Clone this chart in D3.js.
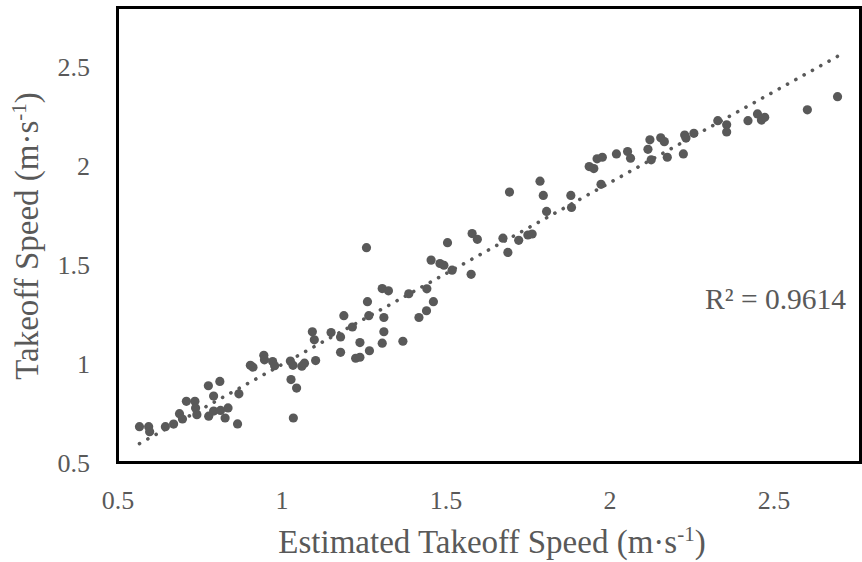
<!DOCTYPE html>
<html>
<head>
<meta charset="utf-8">
<script src="https://cdn.jsdelivr.net/npm/d3@7/dist/d3.min.js"></script>
<style>
  html, body { margin: 0; padding: 0; background: #fff; }
  svg { display: block; }
  text { font-family: "Liberation Serif", "Times New Roman", serif; fill: #595959; }
</style>
</head>
<body>
<svg id="chart" width="862" height="562"></svg>
<script>
// Estimated takeoff speed (x) vs takeoff speed (y), m·s-1
const estimatedSpeed = [
  0.567, 0.595, 0.598, 0.646, 0.671, 0.689, 0.698, 0.710, 0.736, 0.738,
  0.742, 0.777, 0.812, 0.793, 0.778, 0.793, 0.814, 0.828, 0.837, 0.866,
  0.870, 0.905, 0.913, 0.946, 0.948, 0.973, 0.979, 1.027, 1.035, 1.062,
  1.070, 1.104, 1.029, 1.046, 1.036, 1.094, 1.100, 1.151, 1.180, 1.190,
  1.216, 1.239, 1.180, 1.226, 1.239, 1.268, 1.307, 1.312, 1.312, 1.266,
  1.262, 1.307, 1.326, 1.259, 1.370, 1.388, 1.419, 1.442, 1.463, 1.443,
  1.456, 1.483, 1.495, 1.520, 1.506, 1.578, 1.581, 1.597, 1.695, 1.675,
  1.690, 1.723, 1.751, 1.764, 1.788, 1.798, 1.808, 1.882, 1.884, 1.938,
  1.952, 1.962, 1.978, 1.974, 2.021, 2.055, 2.064, 2.117, 2.123, 2.127,
  2.156, 2.167, 2.176, 2.225, 2.229, 2.233, 2.257, 2.330, 2.357, 2.357,
  2.422, 2.451, 2.463, 2.473, 2.603, 2.695
];
const takeoffSpeed = [
  0.681, 0.681, 0.656, 0.681, 0.694, 0.747, 0.720, 0.809, 0.809, 0.775,
  0.742, 0.888, 0.910, 0.836, 0.734, 0.760, 0.763, 0.725, 0.776, 0.695,
  0.847, 0.991, 0.982, 1.042, 1.019, 1.010, 0.989, 1.013, 0.991, 0.987,
  1.002, 1.015, 0.919, 0.876, 0.725, 1.161, 1.120, 1.157, 1.135, 1.242,
  1.185, 1.106, 1.057, 1.027, 1.032, 1.065, 1.103, 1.161, 1.233, 1.242,
  1.313, 1.379, 1.368, 1.586, 1.113, 1.353, 1.233, 1.267, 1.313, 1.378,
  1.523, 1.506, 1.497, 1.472, 1.611, 1.451, 1.657, 1.628, 1.867, 1.634,
  1.562, 1.623, 1.650, 1.655, 1.922, 1.850, 1.769, 1.850, 1.789, 1.996,
  1.986, 2.035, 2.043, 1.906, 2.060, 2.072, 2.038, 2.083, 2.131, 2.030,
  2.141, 2.122, 2.043, 2.060, 2.155, 2.140, 2.164, 2.228, 2.207, 2.171,
  2.228, 2.262, 2.231, 2.245, 2.283, 2.349
];
const xTicks = [0.5, 1, 1.5, 2, 2.5];
const xTickLabels = ["0.5", "1", "1.5", "2", "2.5"];
const yTicks = [0.5, 1, 1.5, 2, 2.5];
const yTickLabels = ["0.5", "1", "1.5", "2", "2.5"];
const xTitle = "Estimated Takeoff Speed (m·s";
const yTitle = "Takeoff Speed (m·s";
const unitExp = "-1";
const r2Label = "R² = 0.9614";

const svg = d3.select("#chart");
const plot = { left: 117.5, top: 7.5, right: 860.5, bottom: 462.5 };

const x = d3.scaleLinear().domain([0.5, 2.765]).range([plot.left, plot.right]);
const y = d3.scaleLinear().domain([0.5, 2.8]).range([plot.bottom, plot.top]);

const grey = "#595959";

// points
const pts = estimatedSpeed.map((v, i) => [v, takeoffSpeed[i]]);
svg.append("g").selectAll("circle").data(pts).join("circle")
  .attr("cx", d => x(d[0])).attr("cy", d => y(d[1]))
  .attr("r", 4.6).attr("fill", grey);

// linear trendline (least squares from the data)
const mx = d3.mean(estimatedSpeed), my = d3.mean(takeoffSpeed);
let sxy = 0, sxx = 0;
pts.forEach(([a, b]) => { sxy += (a - mx) * (b - my); sxx += (a - mx) * (a - mx); });
const slope = sxy / sxx, intercept = my - slope * mx;
const [xmin, xmax] = d3.extent(estimatedSpeed);
svg.append("line")
  .attr("x1", x(xmin)).attr("y1", y(intercept + slope * xmin))
  .attr("x2", x(xmax)).attr("y2", y(intercept + slope * xmax))
  .attr("stroke", grey).attr("stroke-width", 3.6)
  .attr("stroke-linecap", "round").attr("stroke-dasharray", "0.1 9.4");

// frame
svg.append("rect")
  .attr("x", plot.left).attr("y", plot.top)
  .attr("width", plot.right - plot.left).attr("height", plot.bottom - plot.top)
  .attr("fill", "none").attr("stroke", "#000").attr("stroke-width", 3);

// x axis
const xAxis = d3.axisBottom(x).tickValues(xTicks).tickSize(0).tickPadding(0)
  .tickFormat((d, i) => xTickLabels[i]);
const gx = svg.append("g").attr("transform", `translate(0,${plot.bottom})`).call(xAxis);
gx.select(".domain").remove();
gx.selectAll("text").attr("dy", null).attr("y", 46)
  .style("font-family", '"Liberation Serif", serif').style("font-size", "26px").attr("fill", grey);

// y axis
const yAxis = d3.axisLeft(y).tickValues(yTicks).tickSize(0).tickPadding(0)
  .tickFormat((d, i) => yTickLabels[i]);
const gy = svg.append("g").attr("transform", `translate(90,0)`).call(yAxis);
gy.select(".domain").remove();
gy.selectAll("text").attr("x", 0).attr("dy", "0.33em")
  .style("font-family", '"Liberation Serif", serif').style("font-size", "26px").attr("fill", grey);

// axis titles
const xt = svg.append("text").attr("x", 492).attr("y", 553)
  .attr("text-anchor", "middle").style("font-size", "33px");
xt.append("tspan").text(xTitle);
xt.append("tspan").attr("dy", -12).style("font-size", "21px").text(unitExp);
xt.append("tspan").attr("dy", 12).text(")");

const yt = svg.append("text")
  .attr("transform", `translate(38,236) rotate(-90)`)
  .attr("text-anchor", "middle").style("font-size", "33px");
yt.append("tspan").text(yTitle);
yt.append("tspan").attr("dy", -12).style("font-size", "21px").text(unitExp);
yt.append("tspan").attr("dy", 12).text(")");

// R² annotation
svg.append("text").attr("x", 705).attr("y", 309)
  .style("font-size", "29.5px").text(r2Label);
</script>
</body>
</html>
